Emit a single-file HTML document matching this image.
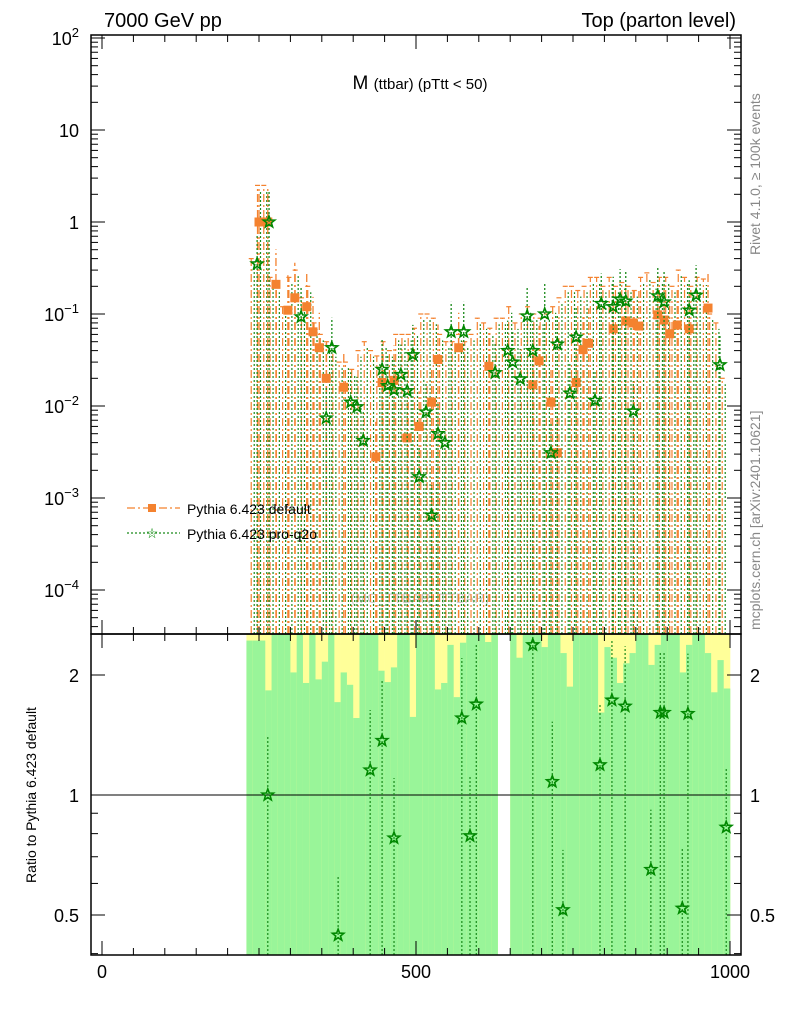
<!DOCTYPE html>
<html><head><meta charset="utf-8"><style>
body{margin:0;background:#fff;}
svg{display:block;font-family:"Liberation Sans",sans-serif;}
</style></head><body>
<svg id="c" width="786" height="1024" viewBox="0 0 786 1024">
<text x="104" y="27" font-size="20">7000 GeV pp</text>
<text x="736" y="27" font-size="20" text-anchor="end">Top (parton level)</text>
<text x="760" y="255" font-size="14" fill="#888" transform="rotate(-90 760 255)">Rivet 4.1.0, ≥ 100k events</text>
<text x="760" y="630" font-size="14" fill="#888" transform="rotate(-90 760 630)">mcplots.cern.ch [arXiv:2401.10621]</text>
<text x="36" y="795" font-size="14" text-anchor="middle" transform="rotate(-90 36 795)">Ratio to Pythia 6.423 default</text>
<text x="420" y="89" font-size="19" text-anchor="middle">M <tspan font-size="15">(ttbar) (pTtt &lt; 50)</tspan></text>
<text x="420" y="603" font-size="14" fill="#ccc" text-anchor="middle">(MC_TTBAR_TTBAR)</text>
<g id="band"></g><g id="main"></g><g id="ratio"></g><g id="axes"></g>
<g>
<line x1="127" y1="508" x2="180" y2="508" stroke="#f4822f" stroke-width="1.3" stroke-dasharray="8,3,2,3"/>
<rect x="148" y="504" width="8" height="8" fill="#f4822f"/>
<text x="187" y="514" font-size="14">Pythia 6.423 default</text>
<line x1="127" y1="533" x2="180" y2="533" stroke="#1a8a1a" stroke-width="1.3" stroke-dasharray="2,2"/>
<text x="152" y="538" font-size="14" fill="#080" text-anchor="middle">☆</text>
<text x="187" y="539" font-size="14">Pythia 6.423 pro-q2o</text>
</g>
</svg>
<script>
const defM=[250,264,277,296,307,326,336,346,357,385,436,446,465,486,505,525,535,568,616,686,696,715,725,755,766,775,814,834,846,855,885,895,904,916,935,965];
const defV=[1.0,1.0,0.21,0.11,0.15,0.12,0.064,0.043,0.020,0.016,0.0028,0.018,0.019,0.0045,0.006,0.011,0.032,0.043,0.027,0.017,0.031,0.011,0.0031,0.018,0.041,0.048,0.069,0.084,0.08,0.074,0.098,0.086,0.061,0.076,0.069,0.116];
const q2oM=[247,266,317,357,366,396,406,416,446,455,465,476,486,495,505,516,525,535,546,556,576,626,646,654,666,677,686,705,715,725,745,755,785,795,814,825,834,846,885,895,935,946,984];
const q2oV=[0.35,1.0,0.093,0.0074,0.043,0.011,0.0098,0.0042,0.025,0.0166,0.015,0.022,0.0146,0.036,0.0017,0.0086,0.00065,0.005,0.004,0.064,0.064,0.023,0.04,0.03,0.0197,0.095,0.04,0.1,0.0031,0.047,0.0138,0.056,0.0115,0.13,0.12,0.145,0.138,0.0088,0.157,0.135,0.11,0.16,0.028];
const ratioM=[264,376,427,446,465,573,586,596,686,717,734,793,812,833,874,889,895,924,933,994];
const ratioV=[1.0,0.445,1.155,1.37,0.78,1.56,0.79,1.69,2.38,1.08,0.515,1.19,1.73,1.67,0.65,1.61,1.61,0.52,1.6,0.83];
const bandStart=230, bandWidth=10;
const bandTop=[2.44,2.44,2.44,1.83,2.6,2.6,2.6,2.03,2.6,1.91,2.6,1.95,2.16,2.6,1.71,2.03,1.89,1.56,2.6,2.6,2.6,2.05,1.92,2.09,2.6,2.6,1.57,2.6,2.6,2.6,1.84,1.91,2.38,1.76,2.41,2.6,2.6,2.6,2.42,2.6,null,null,2.6,2.21,2.6,2.6,2.6,2.35,2.6,2.6,2.27,1.87,2.6,2.6,2.6,2.6,1.61,2.35,2.21,1.91,2.14,2.27,2.6,2.6,2.12,2.38,2.6,2.6,2.6,2.03,2.38,2.6,2.6,2.27,1.81,2.18,1.85];
// upper error envelope per 10 GeV bin (starting 240 GeV)
const errStart=240;
const errUpper=[0.4,2.5,2.5,0.25,0.2,0.12,0.25,0.3,0.15,0.2,0.08,0.06,0.05,0.04,0.03,0.03,0.025,0.04,0.05,0.04,0.035,0.05,0.04,0.06,0.06,0.06,0.07,0.1,0.1,0.09,0.06,0.05,0.05,0.06,0.05,0.06,0.09,0.08,0.07,0.09,0.09,0.12,0.08,0.1,0.12,0.1,0.09,0.1,0.12,0.15,0.2,0.2,0.18,0.2,0.25,0.25,0.2,0.25,0.2,0.22,0.2,0.18,0.25,0.28,0.22,0.25,0.25,0.2,0.3,0.25,0.2,0.25,0.24,0.1,0.08,0.02];
const xTicks=[0,500,1000];
const yTicksMain=[2,1,0,-1,-2,-3,-4];
const yTicksRatio=[2,1,0.5];

const NS="http://www.w3.org/2000/svg";
const L=91,R=741,T=35,MB=634,RB=955;
const X=m=>102+m*0.628;
const Y=v=>222-92*Math.log10(v);
const YR=r=>795-120*Math.log2(r);
function mk(g,tag,at){const e=document.createElementNS(NS,tag);for(const k in at)e.setAttribute(k,at[k]);document.getElementById(g).appendChild(e);return e;}
function star(g,cx,cy,r){let p=[];for(let i=0;i<10;i++){const a=-Math.PI/2+i*Math.PI/5,rr=i%2?r*0.42:r;p.push((cx+rr*Math.cos(a)).toFixed(1)+","+(cy+rr*Math.sin(a)).toFixed(1));}
 return mk(g,"polygon",{points:p.join(" "),fill:"none",stroke:"#080","stroke-width":1.6});}
// band
bandTop.forEach((t,i)=>{if(t===null)return;const x0=X(bandStart+i*bandWidth),x1=X(bandStart+(i+1)*bandWidth);
 const y=mk("band","rect",{x:x0,y:MB,width:x1-x0+0.3,height:RB-MB,fill:"#ffff99"});
 
 
 const yt=Math.max(MB,YR(t));
 const g=mk("band","rect",{x:x0,y:yt,width:x1-x0+0.3,height:RB-yt,fill:"#99f599"});
 
 });
// dense error bars for all bins
errUpper.forEach((u,i)=>{const x=X(errStart+i*10);
 const y=Math.max(T+150,Y(u));
 const a=mk("main","line",{x1:x-1.5,x2:x-1.5,y1:MB,y2:y,stroke:"#f4822f","stroke-width":1.2,"stroke-dasharray":"8,3,2,3"});
 
 
 const ca=mk("main","line",{x1:x-4,x2:x+1,y1:y,y2:y,stroke:"#f4822f","stroke-width":1.2});
 
 
 const b=mk("main","line",{x1:x+1.5,x2:x+1.5,y1:MB,y2:Math.max(T+150,y+6),stroke:"#1a8a1a","stroke-width":1.2,"stroke-dasharray":"2,2"});
 
 });
// main series
defM.forEach((m,i)=>{const x=X(m),y=Y(defV[i]);
 const l=mk("main","line",{x1:x,x2:x,y1:MB,y2:Math.max(T+150,y-35),stroke:"#f4822f","stroke-width":1.3,"stroke-dasharray":"8,3,2,3"});
 
 
 const r=mk("main","rect",{x:x-4.5,y:y-4.5,width:9,height:9,fill:"#f4822f"});
 
 });
q2oM.forEach((m,i)=>{const x=X(m),y=Y(q2oV[i]);
 const l=mk("main","line",{x1:x,x2:x,y1:MB,y2:Math.max(T+150,y-30),stroke:"#1a8a1a","stroke-width":1.3,"stroke-dasharray":"2,2"});
 
 
 const s=star("main",x,y,6);
 
 });
// ratio
const ref=mk("ratio","line",{x1:L,x2:R,y1:YR(1),y2:YR(1),stroke:"#000","stroke-width":1});


ratioM.forEach((m,i)=>{const x=X(m),y=YR(ratioV[i]);
 const l=mk("ratio","line",{x1:x,x2:x,y1:RB,y2:Math.max(MB,y-60),stroke:"#1a8a1a","stroke-width":1.2,"stroke-dasharray":"2,2"});
 
 
 const s=star("ratio",x,y,6);
 
 });
// axes frames
[[T,MB],[MB,RB]].forEach(([a,b])=>{const f=mk("axes","rect",{x:L,y:a,width:R-L,height:b-a,fill:"none",stroke:"#000","stroke-width":1.5});
 
 });
for(let m=0;m<=1000;m+=50){const x=X(m),len=m%500===0?14:7;
 mk("axes","line",{x1:x,x2:x,y1:RB,y2:RB-len,stroke:"#000"});mk("axes","line",{x1:x,x2:x,y1:MB,y2:MB-len,stroke:"#000"});
 mk("axes","line",{x1:x,x2:x,y1:MB,y2:MB+len,stroke:"#000"});mk("axes","line",{x1:x,x2:x,y1:T,y2:T+len,stroke:"#000"});}
xTicks.forEach(m=>{const t=mk("axes","text",{x:X(m),y:978,"font-size":18,"text-anchor":"middle"});t.textContent=m;
 
 });
for(let e=-5;e<=2;e++)for(let k=1;k<10;k++){const y=Y(k*Math.pow(10,e));if(y<T||y>MB)continue;const len=k===1?14:7;
 mk("axes","line",{x1:L,x2:L+len,y1:y,y2:y,stroke:"#000"});mk("axes","line",{x1:R,x2:R-len,y1:y,y2:y,stroke:"#000"});}
yTicksMain.forEach(e=>{const y=Y(Math.pow(10,e));const t=mk("axes","text",{x:79,y:y+7,"font-size":18,"text-anchor":"end"});
 if(e===0)t.textContent="1";else if(e===1)t.textContent="10";
 else{t.textContent="10";const s=document.createElementNS(NS,"tspan");s.setAttribute("dy","-8");s.setAttribute("font-size","13");s.textContent=e===2?"2":"\u2212"+(-e);t.appendChild(s);}
 
 });
[0.4,0.5,0.6,0.7,0.8,0.9,1,2].forEach(r=>{const y=YR(r);const len=(r===1||r===2||r===0.5)?14:7;
 mk("axes","line",{x1:L,x2:L+len,y1:y,y2:y,stroke:"#000"});mk("axes","line",{x1:R,x2:R-len,y1:y,y2:y,stroke:"#000"});});
yTicksRatio.forEach(r=>{const y=YR(r);
 const t=mk("axes","text",{x:79,y:y+7,"font-size":18,"text-anchor":"end"});t.textContent=r;
 
 
 const t2=mk("axes","text",{x:750,y:y+7,"font-size":18});t2.textContent=r;
 
 });
</script>
</body></html>
